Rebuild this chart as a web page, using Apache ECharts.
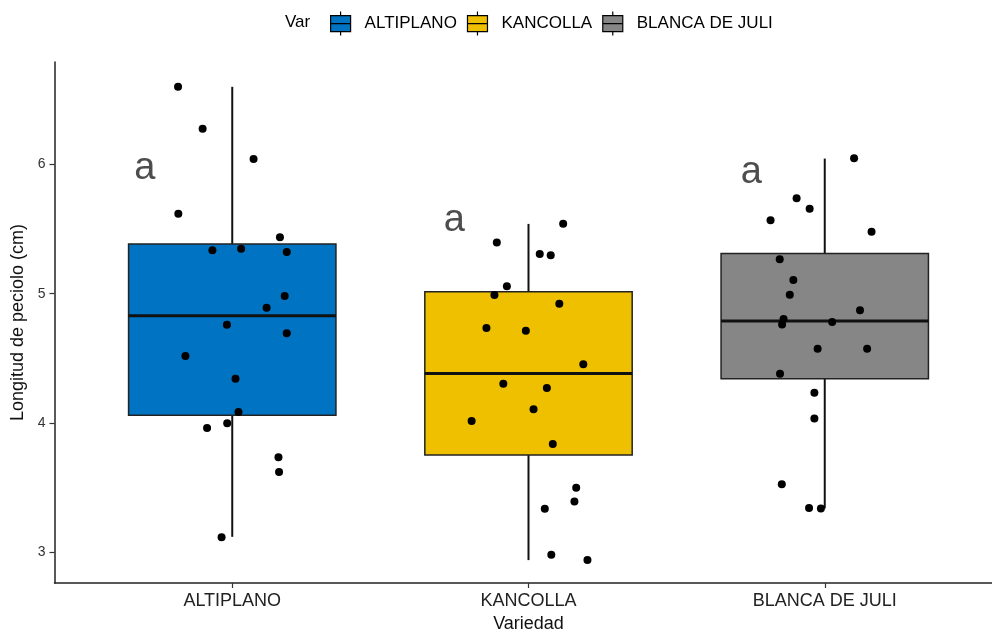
<!DOCTYPE html>
<html><head><meta charset="utf-8">
<script src="https://cdn.jsdelivr.net/npm/echarts@6/dist/echarts.min.js"></script>
<style>html,body{margin:0;padding:0;background:#fff}#c{width:992px;height:633px}</style>
</head><body><div id="c"></div>
<script>
const categories = ['ALTIPLANO', 'KANCOLLA', 'BLANCA DE JULI'];
const colors = ['#0073C2', '#EFC000', '#868686'];
// box statistics: [min, q1, median, q3, max]
const boxAltiplano = [3.12, 4.06, 4.83, 5.384, 6.60];
const boxKancolla = [2.94, 3.752, 4.384, 5.015, 5.54];
const boxBlanca = [3.34, 4.343, 4.789, 5.312, 6.045];
// observed points (values) and their horizontal jitter (category units)
const ptsAltiplano = [6.60, 6.276, 6.042, 5.619, 5.436, 5.336, 5.348, 5.322, 4.982, 4.892, 4.760, 4.694, 4.518, 4.343, 4.085, 3.961, 3.998, 3.735, 3.621, 3.116];
const jitAltiplano = [-0.183, -0.10, 0.072, -0.182, 0.161, -0.067, 0.030, 0.184, 0.177, 0.116, -0.018, 0.184, -0.158, 0.011, 0.021, -0.085, -0.017, 0.156, 0.158, -0.036];
const ptsKancolla = [5.541, 5.397, 5.307, 5.297, 5.057, 4.990, 4.923, 4.735, 4.714, 4.454, 4.304, 4.271, 4.106, 4.015, 3.838, 3.500, 3.394, 3.337, 2.981, 2.940];
const jitKancolla = [0.117, -0.107, 0.038, 0.075, -0.073, -0.115, 0.104, -0.142, -0.009, 0.185, -0.085, 0.062, 0.017, -0.192, 0.082, 0.161, 0.155, 0.055, 0.077, 0.199];
const ptsBlanca = [6.047, 5.738, 5.657, 5.568, 5.480, 5.266, 5.106, 4.992, 4.872, 4.804, 4.763, 4.781, 4.575, 4.575, 4.381, 4.234, 4.036, 3.526, 3.343, 3.340];
const jitBlanca = [0.099, -0.095, -0.051, -0.183, 0.158, -0.152, -0.106, -0.118, 0.119, -0.139, -0.144, 0.025, -0.024, 0.143, -0.151, -0.035, -0.035, -0.145, -0.053, -0.013];
// significance letters
const letters = ['a', 'a', 'a'];
const letterY = [5.97, 5.57, 5.94];
const letterX = [-0.295, -0.25, -0.248];
const yTicks = [3, 4, 5, 6];

const boxes = [boxAltiplano, boxKancolla, boxBlanca];
const pts = [ptsAltiplano, ptsKancolla, ptsBlanca];
const jits = [jitAltiplano, jitKancolla, jitBlanca];
const FONT = '"Liberation Sans", Arial, sans-serif';

function renderBox(params, api) {
  const x = api.value(0);
  const lo = api.coord([x, api.value(1)]);
  const q1 = api.coord([x, api.value(2)]);
  const md = api.coord([x, api.value(3)]);
  const q3 = api.coord([x, api.value(4)]);
  const hi = api.coord([x, api.value(5)]);
  const w = api.size([0.7, 0])[0];
  const c = api.visual('color');
  return {
    type: 'group', children: [
      { type: 'line', shape: { x1: hi[0], y1: hi[1], x2: q3[0], y2: q3[1] }, style: { stroke: '#111', lineWidth: 2 } },
      { type: 'line', shape: { x1: q1[0], y1: q1[1], x2: lo[0], y2: lo[1] }, style: { stroke: '#111', lineWidth: 2 } },
      { type: 'rect', shape: { x: q3[0] - w / 2, y: q3[1], width: w, height: q1[1] - q3[1] }, style: { fill: c, stroke: '#222', lineWidth: 1.5 } },
      { type: 'line', shape: { x1: md[0] - w / 2, y1: md[1], x2: md[0] + w / 2, y2: md[1] }, style: { stroke: '#111', lineWidth: 3 } }
    ]
  };
}

const series = [];
categories.forEach((name, i) => {
  series.push({
    name: name, type: 'custom', renderItem: renderBox,
    itemStyle: { color: colors[i] },
    encode: { x: 0, y: [1, 2, 3, 4, 5] },
    data: [[i].concat(boxes[i])], z: 2, silent: true
  });
});
categories.forEach((name, i) => {
  series.push({
    type: 'scatter', symbol: 'circle', symbolSize: 8,
    itemStyle: { color: '#000', opacity: 1 }, z: 5, silent: true,
    data: pts[i].map((v, k) => [i + jits[i][k], v])
  });
});
series.push({
  type: 'custom', z: 6, silent: true,
  renderItem: function (params, api) {
    const p = api.coord([api.value(0), api.value(1)]);
    return { type: 'text', x: p[0], y: p[1], style: { text: letters[params.dataIndex], fontSize: 38, fontFamily: FONT, fill: '#4D4D4D', align: 'center', verticalAlign: 'middle' } };
  },
  encode: { x: 0, y: 1 },
  data: letters.map((l, i) => [i + letterX[i], letterY[i]])
});

const chart = echarts.init(document.getElementById('c'), null, { renderer: 'canvas' });
chart.setOption({
  animation: false,
  backgroundColor: '#fff',
  textStyle: { fontFamily: FONT },
  title: { text: 'Var', left: 280, top: 9, textStyle: { fontSize: 17, fontWeight: 'normal', color: '#000', fontFamily: FONT } },
  legend: {
    left: 325, top: 6, itemWidth: 22, itemHeight: 24, itemGap: 10,
    data: categories.map(n => ({ name: n, icon: 'path://M10,0 V4 M0,4 H20 V20 H0 Z M0,12 H20 M10,20 V24' })),
    itemStyle: { borderColor: '#000', borderWidth: 1.2 },
    textStyle: { fontSize: 17, color: '#000', fontFamily: FONT, padding: [0, 0, 0, 8] }
  },
  grid: { left: 54.5, top: 62, width: 948, height: 521, containLabel: false, outerBoundsMode: 'none' },
  xAxis: {
    type: 'value', min: -0.6, max: 2.6,
    axisLine: { onZero: false, lineStyle: { color: '#222', width: 1.5 } },
    axisTick: { show: true, customValues: [0, 1, 2], length: 5, lineStyle: { color: '#333', width: 1.2 } },
    axisLabel: { customValues: [0, 1, 2], formatter: v => categories[Math.round(v)], fontSize: 18, color: '#222', margin: 9 },
    splitLine: { show: false },
    name: 'Variedad', nameLocation: 'middle', nameGap: 30,
    nameTextStyle: { fontSize: 18, color: '#111' }
  },
  yAxis: {
    type: 'value', min: 2.763, max: 6.792,
    axisLine: { show: true, onZero: false, lineStyle: { color: '#222', width: 1.5 } },
    axisTick: { show: true, customValues: yTicks, length: 5, lineStyle: { color: '#333', width: 1.2 } },
    axisLabel: { customValues: yTicks, fontSize: 14, color: '#333', margin: 9 },
    splitLine: { show: false },
    name: 'Longitud de peciolo (cm)', nameLocation: 'middle', nameGap: 27,
    nameTextStyle: { fontSize: 18, color: '#111' }
  },
  series: series
});
</script>
</body></html>
